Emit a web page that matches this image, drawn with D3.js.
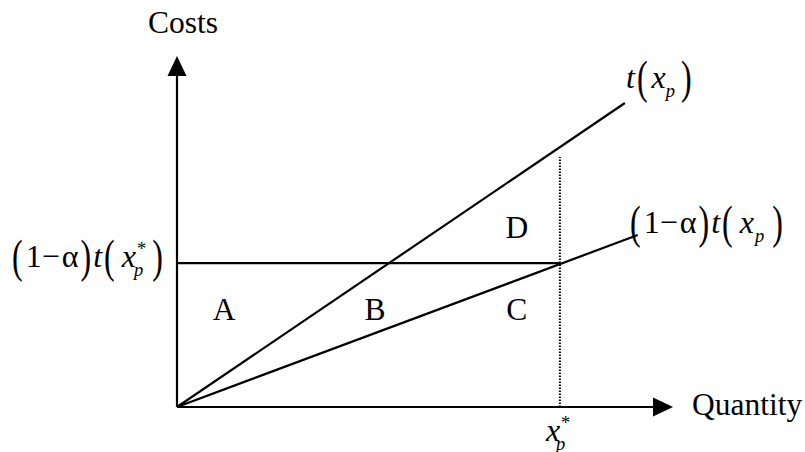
<!DOCTYPE html>
<html>
<head>
<meta charset="utf-8">
<script src="https://cdn.jsdelivr.net/npm/d3@7"></script>
<style>
  body { margin: 0; background: #fff; }
  text { font-family: "Liberation Serif", "Times New Roman", serif; fill: #000; }
</style>
</head>
<body>
<svg id="chart" width="805" height="452"></svg>
<script>
// ---- data (chart units, 0..100 on both axes) ----
const axisMax = [100, 100];                 // [quantity, costs] at arrow tips
const tLine = [[0, 0], [90.3, 86.6]];       // t(x_p)
const lowLine = [[0, 0], [92.9, 49.0]];     // (1-a) t(x_p)
const xStar = 77.2;                         // x_p*
const costLevel = 41.0;                     // (1-a) t(x_p*)
const dropTop = 71.2;                       // top of dotted line
const regionNames = ["A", "B", "C", "D"];
const regionX = [9.5, 39.9, 68.5, 68.5];
const regionY = [24.8, 24.8, 24.8, 48.1];
const axisTitles = ["Quantity", "Costs"];

const width = 805, height = 452;
const svg = d3.select("#chart");

const x = d3.scaleLinear().domain([0, axisMax[0]]).range([177, 673]);
const y = d3.scaleLinear().domain([0, axisMax[1]]).range([407, 56]);

const line = d3.line().x(d => x(d[0])).y(d => y(d[1]));

// axes with arrow heads
const arrowLen = 20, arrowHalf = 9.5;
svg.append("line")
  .attr("x1", x(0)).attr("y1", y(0))
  .attr("x2", x(0)).attr("y2", y(axisMax[1]) + arrowLen)
  .attr("stroke", "#000").attr("stroke-width", 2.2);
svg.append("path")
  .attr("d", `M${x(0)},${y(axisMax[1])} L${x(0) - arrowHalf},${y(axisMax[1]) + arrowLen} L${x(0) + arrowHalf},${y(axisMax[1]) + arrowLen} Z`)
  .attr("fill", "#000");
svg.append("line")
  .attr("x1", x(0)).attr("y1", y(0))
  .attr("x2", x(axisMax[0]) - arrowLen).attr("y2", y(0))
  .attr("stroke", "#000").attr("stroke-width", 2.2);
svg.append("path")
  .attr("d", `M${x(axisMax[0])},${y(0)} L${x(axisMax[0]) - arrowLen},${y(0) - arrowHalf} L${x(axisMax[0]) - arrowLen},${y(0) + arrowHalf} Z`)
  .attr("fill", "#000");

// cost lines
svg.append("path").attr("d", line(tLine))
  .attr("fill", "none").attr("stroke", "#000").attr("stroke-width", 2.2);
svg.append("path").attr("d", line(lowLine))
  .attr("fill", "none").attr("stroke", "#000").attr("stroke-width", 2.2);

// horizontal cost level
svg.append("path").attr("d", line([[0, costLevel], [xStar, costLevel]]))
  .attr("fill", "none").attr("stroke", "#000").attr("stroke-width", 2.2);

// dotted drop line at x_p*
svg.append("path").attr("d", line([[xStar, 0], [xStar, dropTop]]))
  .attr("fill", "none").attr("stroke", "#000").attr("stroke-width", 2)
  .attr("stroke-dasharray", "1.5,1.5");

// region letters
svg.selectAll(".region")
  .data(regionNames)
  .enter()
  .append("text")
  .attr("class", "region")
  .attr("x", (d, i) => x(regionX[i]))
  .attr("y", (d, i) => y(regionY[i]))
  .attr("text-anchor", "middle")
  .style("font-size", "31.5px")
  .text(d => d);

// axis titles
svg.append("text")
  .attr("x", x(axisMax[0]) + 19).attr("y", y(0) + 8)
  .style("font-size", "31.5px")
  .text(axisTitles[0]);
svg.append("text")
  .attr("x", x(0) + 6).attr("y", 33)
  .attr("text-anchor", "middle")
  .style("font-size", "31.5px")
  .text(axisTitles[1]);

// math labels built piece by piece
function mathLabel(tokens, x0, base, size) {
  const g = svg.append("g");
  let cx = x0;
  tokens.forEach(tok => {
    if (tok.paren) {
      const t = g.append("text")
        .attr("transform", `translate(${cx},${base + size * 0.17}) scale(1,1.45)`)
        .style("font-size", size + "px")
        .text(tok.paren);
      cx += t.node().getComputedTextLength() + (tok.gap || 0);
    } else if (tok.sub || tok.sup) {
      let w = 0;
      if (tok.sup) {
        const s = g.append("text")
          .attr("x", cx + (tok.supDx || 0)).attr("y", base - size * 0.36)
          .style("font-size", (size * 0.58) + "px")
          .text(tok.sup);
        w = Math.max(w, s.node().getComputedTextLength() + (tok.supDx || 0));
      }
      if (tok.sub) {
        const s = g.append("text")
          .attr("x", cx + (tok.subDx || 0)).attr("y", base + size * 0.28)
          .style("font-size", (size * 0.58) + "px")
          .style("font-style", "italic")
          .text(tok.sub);
        w = Math.max(w, s.node().getComputedTextLength() + (tok.subDx || 0));
      }
      cx += w + (tok.gap || 0);
    } else {
      const t = g.append("text")
        .attr("x", cx).attr("y", base)
        .style("font-size", size + "px")
        .style("font-style", tok.it ? "italic" : "normal")
        .text(tok.s);
      cx += t.node().getComputedTextLength() + (tok.gap || 0);
    }
  });
  return g;
}

const oneMinusAlpha = [
  { paren: "(", gap: 3 }, { s: "1", gap: 0 }, { s: "\u2212", gap: 2 }, { s: "\u03b1", gap: 2 },
  { paren: ")", gap: 2 }, { s: "t", it: true, gap: 2 }, { paren: "(", gap: 7 }
];

mathLabel(oneMinusAlpha.concat([
  { s: "x", it: true, gap: -2 }, { sup: "*", sub: "p", supDx: 3, gap: 6 }, { paren: ")" }
]), 12, 267, 32);

mathLabel(oneMinusAlpha.concat([
  { s: "x", it: true, gap: 1 }, { sub: "p", gap: 8 }, { paren: ")" }
]), 630, 233, 32);

mathLabel([
  { s: "t", it: true, gap: 2 }, { paren: "(", gap: 4 }, { s: "x", it: true, gap: 0 },
  { sub: "p", gap: 6 }, { paren: ")" }
], 626, 88, 32);

mathLabel([
  { s: "x", it: true, gap: -4 }, { sup: "*", sub: "p", supDx: 5, subDx: 0 }
], x(xStar) - 14, 441, 32);
</script>
</body>
</html>
